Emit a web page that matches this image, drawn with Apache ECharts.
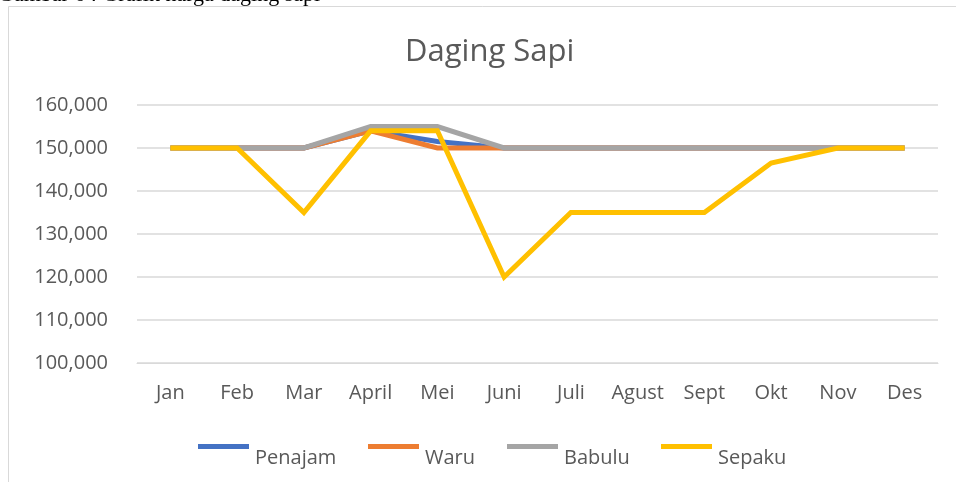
<!DOCTYPE html>
<html>
<head>
<meta charset="utf-8">
<script src="https://cdn.jsdelivr.net/npm/echarts@6/dist/echarts.min.js"></script>
<style>html,body{margin:0;padding:0;background:#fff;}#c{width:956px;height:482px;}</style>
</head>
<body>
<div id="c"></div>
<script>
const months = ['Jan','Feb','Mar','April','Mei','Juni','Juli','Agust','Sept','Okt','Nov','Des'];
const penajam = [150000,150000,150000,154000,151500,150000,150000,150000,150000,150000,150000,150000];
const waru    = [150000,150000,150000,154000,150000,150000,150000,150000,150000,150000,150000,150000];
const babulu  = [150000,150000,150000,155000,155000,150000,150000,150000,150000,150000,150000,150000];
const sepaku  = [150000,150000,135000,154000,154000,120000,135000,135000,135000,146500,150000,150000];
const seriesNames = ['Penajam','Waru','Babulu','Sepaku'];
const seriesData = [penajam, waru, babulu, sepaku];
const colors = ['#4472C4','#ED7D31','#A5A5A5','#FFC000'];
const legendLeft = [198, 368, 507, 661];
const font = '"Open Sans", sans-serif';

const chart = echarts.init(document.getElementById('c'));
chart.setOption({
  animation: false,
  backgroundColor: '#fff',
  title: {
    text: 'Daging Sapi', left: 405, top: 37, padding: 0,
    textStyle: {fontFamily: font, fontSize: 31, fontWeight: 'normal', color: '#595959'}
  },
  graphic: [
    {type: 'rect', shape: {x: 8.5, y: 6.5, width: 960, height: 500}, style: {fill: 'none', stroke: '#D9D9D9', lineWidth: 1}},
    {type: 'text', left: -2, top: -16, style: {text: 'Gambar 6 : Grafik harga daging sapi', font: '22px "Liberation Serif", serif', fill: '#000'}}
  ],
  legend: seriesNames.map((n, i) => ({
    data: [n], left: legendLeft[i], top: 444, padding: 0,
    itemWidth: 51, itemHeight: 5, icon: 'rect',
    formatter: name => '{t|' + name + '}',
    textStyle: {fontFamily: font, fontSize: 20, color: '#595959',
      rich: {t: {fontFamily: font, fontSize: 20, color: '#595959', padding: [24, 0, 0, 1]}}}
  })),
  grid: {left: 137, right: 18, top: 105, bottom: 119},
  xAxis: {
    type: 'category', data: months, boundaryGap: true,
    axisLine: {lineStyle: {color: '#D9D9D9'}}, axisTick: {show: false},
    axisLabel: {interval: 0, fontFamily: font, fontSize: 20, color: '#595959', margin: 20}
  },
  yAxis: {
    type: 'value', min: 100000, max: 160000, interval: 10000,
    axisLine: {show: false}, axisTick: {show: false},
    splitLine: {lineStyle: {color: '#D9D9D9', width: 1.5}},
    axisLabel: {fontFamily: font, fontSize: 20, color: '#595959', margin: 29,
      formatter: v => v.toLocaleString('en-US')}
  },
  series: seriesNames.map((n, i) => ({
    name: n, type: 'line', data: seriesData[i], symbol: 'none',
    lineStyle: {width: 5, color: colors[i], join: 'miter'}, itemStyle: {color: colors[i]}
  }))
});
</script>
</body>
</html>
